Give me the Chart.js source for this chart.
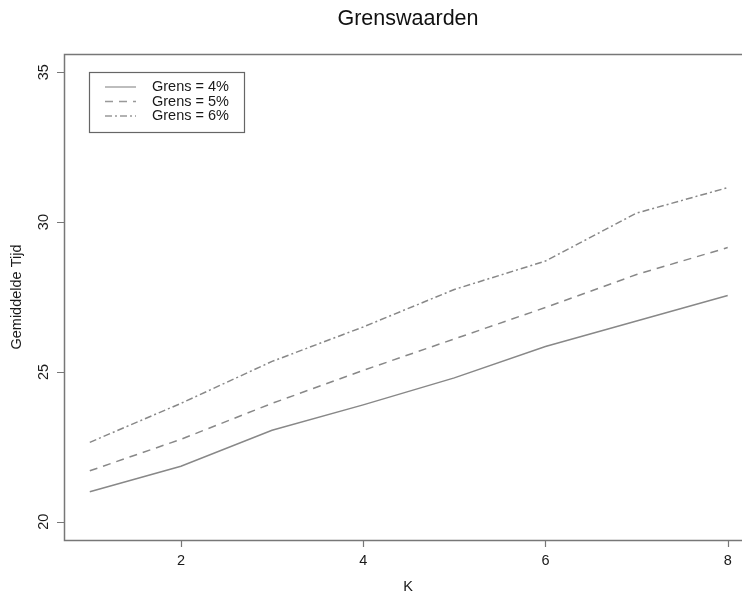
<!DOCTYPE html>
<html lang="nl">
<head>
<meta charset="utf-8">
<title>Grenswaarden</title>
<script src="https://cdn.jsdelivr.net/npm/chart.js@4.4.1/dist/chart.umd.min.js"></script>
<style>
  html, body { margin: 0; padding: 0; background: #fff; }
  #wrap { width: 742px; height: 595px; }
</style>
</head>
<body>
<div id="wrap"><canvas id="grens" width="742" height="595"></canvas></div>
<script>
// waarden
var K = [1, 2, 3, 4, 5, 6, 7, 8];
var grens4 = [21.0, 21.85, 23.05, 23.9, 24.8, 25.85, 26.7, 27.55];
var grens5 = [21.7, 22.75, 23.95, 25.05, 26.1, 27.15, 28.25, 29.15];
var grens6 = [22.65, 23.95, 25.35, 26.5, 27.75, 28.7, 30.3, 31.15];
var labels = ['Grens = 4%', 'Grens = 5%', 'Grens = 6%'];
var xTicks = [2, 4, 6, 8];
var yTicks = [20, 25, 30, 35];

var FONT = '"Liberation Sans", Arial, Helvetica, sans-serif';
var dashes = [[], [8, 6], [7, 3, 2, 3]];

function pts(arr) {
  return K.map(function (k, i) { return { x: k, y: arr[i] }; });
}

// R-achtige assen, kader, titel en legenda
var rAxes = {
  id: 'rAxes',
  afterDraw: function (chart) {
    var c = chart.ctx, a = chart.chartArea;
    var xs = chart.scales.x, ys = chart.scales.y;
    c.save();
    c.strokeStyle = '#777';
    c.lineWidth = 1.5;
    c.setLineDash([]);
    // kader (rechterkant valt buiten het beeld)
    c.strokeRect(a.left + 0.5, a.top + 0.5, a.right - a.left + 10, a.bottom - a.top);

    c.lineWidth = 1.2;
    c.fillStyle = '#1a1a1a';
    c.font = '14.5px ' + FONT;
    // x-as
    c.textAlign = 'center';
    c.textBaseline = 'middle';
    c.beginPath();
    xTicks.forEach(function (t) {
      var px = Math.round(xs.getPixelForValue(t)) + 0.5;
      c.moveTo(px, a.bottom);
      c.lineTo(px, a.bottom + 7);
    });
    c.stroke();
    xTicks.forEach(function (t) {
      c.fillText(String(t), xs.getPixelForValue(t), a.bottom + 21);
    });
    // y-as
    c.beginPath();
    yTicks.forEach(function (t) {
      var py = Math.round(ys.getPixelForValue(t)) + 0.5;
      c.moveTo(a.left, py);
      c.lineTo(a.left - 7, py);
    });
    c.stroke();
    yTicks.forEach(function (t) {
      c.save();
      c.translate(a.left - 20, ys.getPixelForValue(t));
      c.rotate(-Math.PI / 2);
      c.fillText(String(t), 0, 0);
      c.restore();
    });

    // astitels
    c.fillText('K', 408, 587);
    c.save();
    c.translate(17, (a.top + a.bottom) / 2);
    c.rotate(-Math.PI / 2);
    c.fillText('Gemiddelde Tijd', 0, 0);
    c.restore();

    // titel
    c.font = '21.5px ' + FONT;
    c.fillStyle = '#111';
    c.fillText('Grenswaarden', 408, 19);

    // legenda
    var lx = 89, ly = 72;
    c.strokeStyle = '#666';
    c.lineWidth = 1.2;
    c.strokeRect(lx + 0.5, ly + 0.5, 155, 60);
    c.font = '14.5px ' + FONT;
    c.textAlign = 'left';
    c.fillStyle = '#1a1a1a';
    labels.forEach(function (lab, i) {
      var yy = ly + 15 + i * 14.5;
      c.strokeStyle = '#999';
      c.lineWidth = 1.3;
      c.setLineDash(dashes[i]);
      c.beginPath();
      c.moveTo(lx + 16, yy);
      c.lineTo(lx + 47, yy);
      c.stroke();
      c.setLineDash([]);
      c.fillText(lab, lx + 63, yy);
    });
    c.restore();
  }
};

new Chart(document.getElementById('grens'), {
  type: 'line',
  data: {
    datasets: [grens4, grens5, grens6].map(function (s, i) {
      return {
        label: labels[i],
        data: pts(s),
        borderColor: '#888',
        borderWidth: 1.5,
        borderDash: dashes[i],
        pointRadius: 0,
        fill: false,
        tension: 0
      };
    })
  },
  options: {
    responsive: false,
    animation: false,
    layout: { padding: { left: 64, top: 54, right: 0, bottom: 55 } },
    plugins: { legend: { display: false }, tooltip: { enabled: false } },
    scales: {
      x: { type: 'linear', min: 0.717, max: 8.157, display: false },
      y: { type: 'linear', min: 19.39, max: 35.61, display: false }
    }
  },
  plugins: [rAxes]
});
</script>
</body>
</html>
